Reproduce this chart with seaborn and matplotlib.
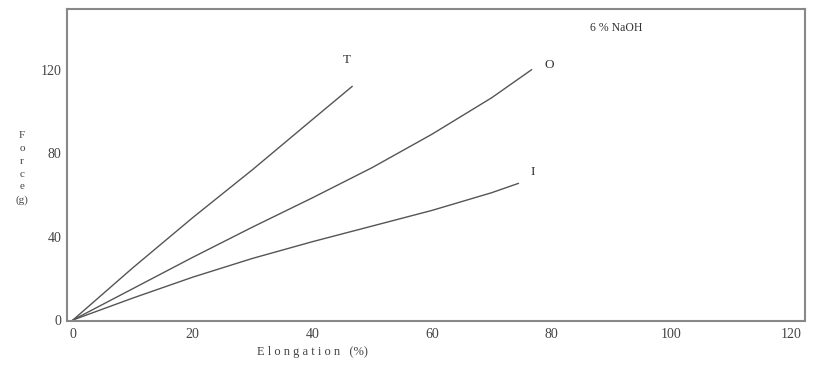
import matplotlib
matplotlib.use("Agg")
import matplotlib.pyplot as plt
import pandas as pd
import seaborn as sns

# elongation (%) vs force (g)
t_elong = [0, 10, 20, 30, 40, 46.7]
t_force = [0, 25, 49, 72, 96, 112]
o_elong = [0, 10, 20, 30, 40, 50, 60, 70, 76.7]
o_force = [0, 15, 30, 44.5, 58.5, 73, 89, 106.5, 120]
i_elong = [0, 10, 20, 30, 40, 50, 60, 70, 74.5]
i_force = [0, 10.5, 20.5, 29.5, 37.5, 45, 52.5, 61, 65.5]

x_ticks = [0, 20, 40, 60, 80, 100, 120]
y_ticks = [0, 40, 80, 120]

df = pd.concat([
    pd.DataFrame({"elong": t_elong, "force": t_force, "fibre": "T"}),
    pd.DataFrame({"elong": o_elong, "force": o_force, "fibre": "O"}),
    pd.DataFrame({"elong": i_elong, "force": i_force, "fibre": "I"}),
])

sns.set_style("white")
plt.rcParams["font.family"] = ["Liberation Serif", "DejaVu Serif"]

fig = plt.figure(figsize=(8.14, 3.65), dpi=100)
ax = fig.add_axes([0.0823, 0.1205, 0.9067, 0.8545])

sns.lineplot(data=df, x="elong", y="force", units="fibre", estimator=None,
             color="#555555", lw=1.0, sort=False, ax=ax)

ax.set_xlim(-1, 122.4)
ax.set_ylim(-0.5, 149)
ax.set_xticks(x_ticks)
ax.set_yticks(y_ticks)
ax.tick_params(colors="#444444", labelsize=10, length=3, width=0.8, direction="out")
ax.tick_params(axis="x", pad=2)
ax.tick_params(axis="y", pad=1)
for s in ax.spines.values():
    s.set_color("#888888")
    s.set_linewidth(1.5)
ax.set_xlabel("")
ax.set_ylabel("")

# curve labels
txt = dict(color="#333333", fontsize=9.5)
ax.text(45.8, 124.4, "T", ha="center", va="center", **txt)
ax.text(79.6, 122, "O", ha="center", va="center", **txt)
ax.text(76.9, 70.8, "I", ha="center", va="center", **txt)
ax.text(90.8, 140, "6 % NaOH", ha="center", va="center", color="#333333", fontsize=8.5)

# axis titles in the spaced-out style of the original
fig.text(312 / 814, 1 - 352 / 365, "E l o n g a t i o n   (%)", ha="center", va="center",
         color="#444444", fontsize=9)
fig.text(22 / 814, 1 - 168 / 365, "F\no\nr\nc\ne\n(g)", ha="center", va="center",
         color="#444444", fontsize=8, linespacing=1.55)

fig.savefig("out.png", dpi=100)
